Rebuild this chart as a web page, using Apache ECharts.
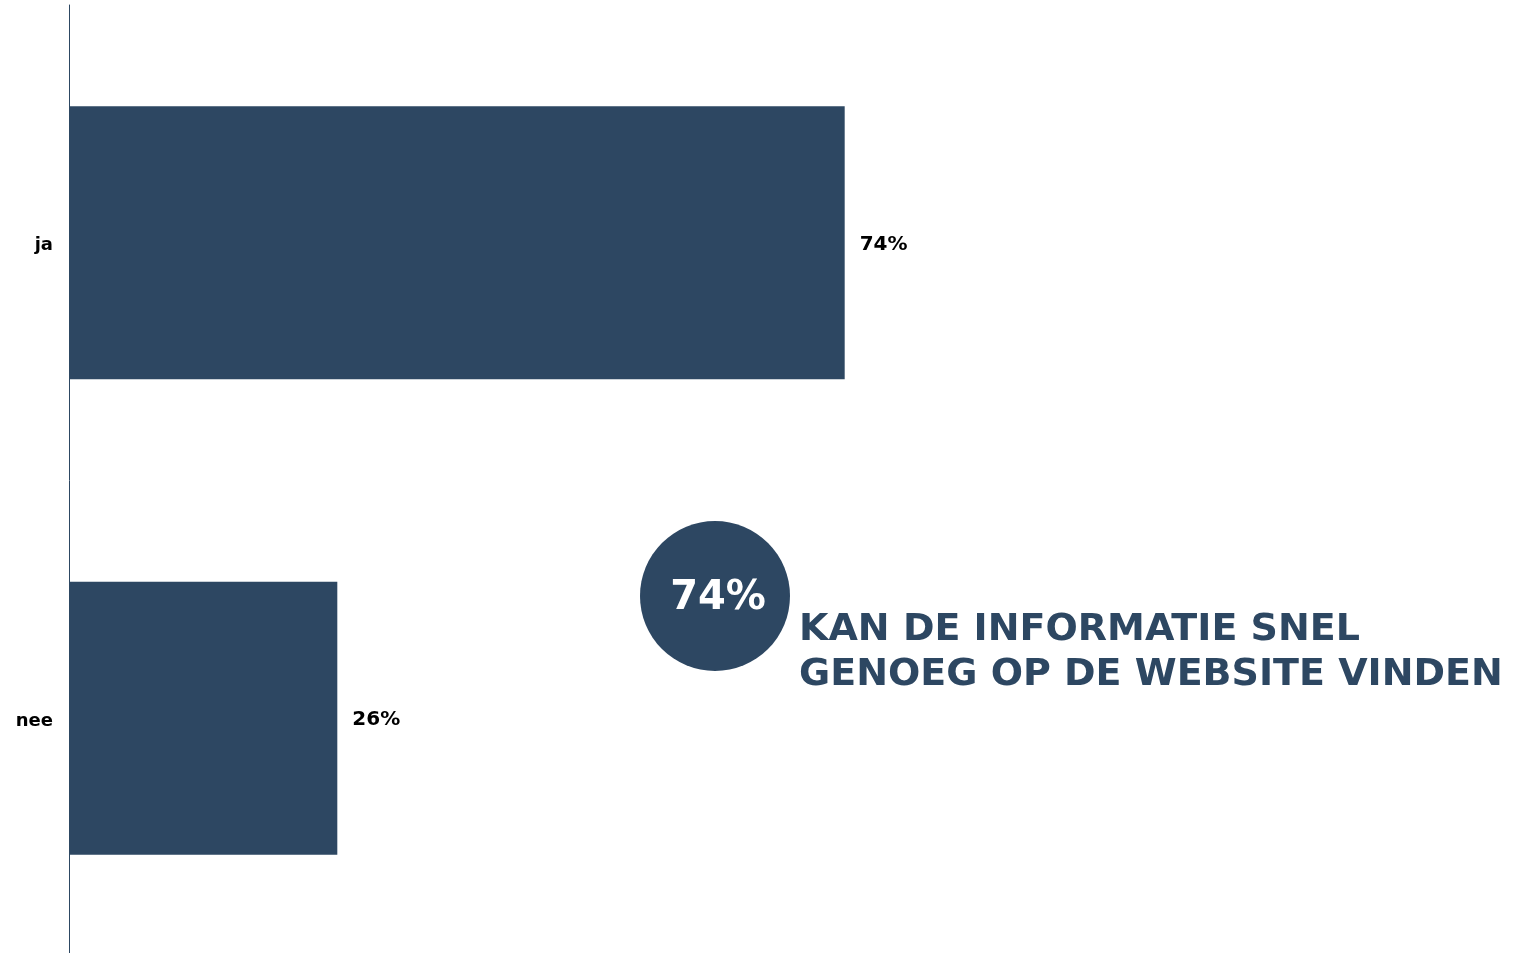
<!DOCTYPE html>
<html>
<head>
<meta charset="utf-8">
<script src="https://cdn.jsdelivr.net/npm/echarts@6/dist/echarts.min.js"></script>
<style>
  html, body { margin: 0; padding: 0; background: #fff; overflow: hidden; }
  #chart { width: 1524px; height: 960px; }
</style>
</head>
<body>
<div id="chart"></div>
<script>
var categories = ['ja', 'nee'];
var percentages = [74.3, 25.7];
var highlightText = '74%';
var highlightCaption = 'KAN DE INFORMATIE SNEL\nGENOEG OP DE WEBSITE VINDEN';

var navy = '#2d4762';

var myChart = echarts.init(document.getElementById('chart'));
myChart.setOption({
    backgroundColor: '#fff',
    animation: false,
    // div is a bit taller than the window so the axis runs off the bottom edge
    grid: { left: 69, right: 411, top: 5, bottom: 4 },
    xAxis: {
        type: 'value',
        min: 0,
        max: 100,
        show: false
    },
    yAxis: {
        type: 'category',
        data: categories,
        inverse: true,
        axisLine: { show: true, lineStyle: { color: navy, width: 1 } },
        axisTick: { show: false },
        axisLabel: {
            margin: 16,
            formatter: '{c|{value}}',
            rich: {
                c: {
                    padding: [6, 0, 0, 0],
                    color: '#000',
                    fontFamily: 'DejaVu Sans',
                    fontWeight: 'bold',
                    fontSize: 18
                }
            }
        }
    },
    series: [{
        type: 'bar',
        data: percentages,
        barWidth: 273,
        itemStyle: { color: navy },
        label: {
            show: true,
            position: 'right',
            distance: 15,
            offset: [0, 2],
            color: '#000',
            fontFamily: 'DejaVu Sans',
            fontWeight: 'bold',
            fontSize: 20,
            formatter: function (p) { return Math.round(p.value) + '%'; }
        }
    }],
    // highlight bubble + caption
    graphic: [
        {
            type: 'circle',
            shape: { cx: 715, cy: 596, r: 75 },
            style: { fill: navy }
        },
        {
            type: 'text',
            x: 718,
            y: 599,
            style: {
                text: highlightText,
                fill: '#fff',
                font: 'bold 40px "DejaVu Sans"',
                align: 'center',
                verticalAlign: 'middle'
            }
        },
        {
            type: 'text',
            x: 799,
            y: 608,
            style: {
                text: highlightCaption,
                fill: navy,
                font: 'bold 38px "DejaVu Sans"',
                lineHeight: 45,
                align: 'left',
                verticalAlign: 'top'
            }
        }
    ]
});
</script>
</body>
</html>
